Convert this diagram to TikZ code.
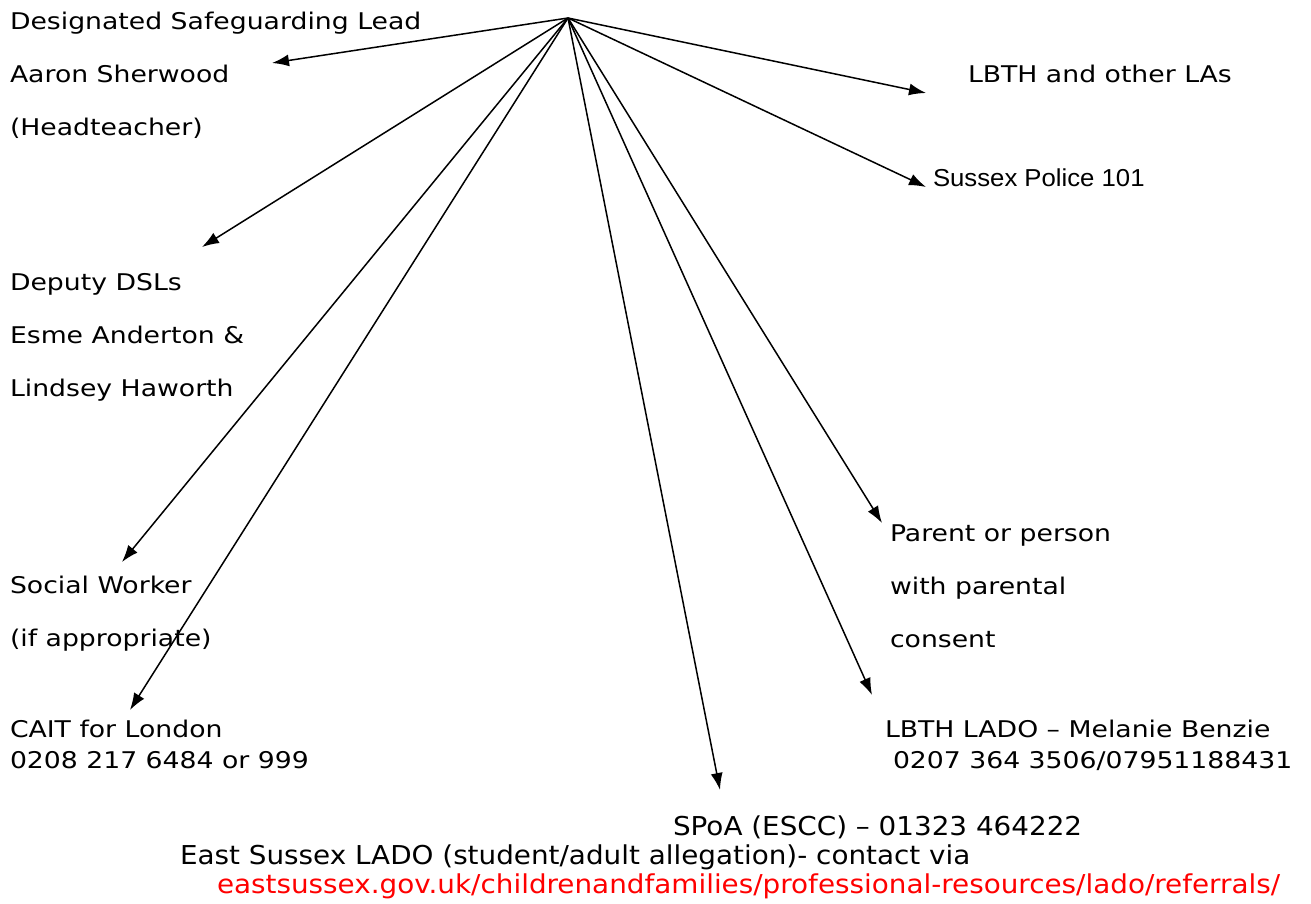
\documentclass[tikz,border=0pt]{standalone}
\usepackage{fontspec}
\setmainfont[FakeStretch=1.16]{DejaVu Sans}
\newfontfamily\arialfont[FakeStretch=1.05]{Liberation Sans}
\newfontfamily\lowfont[FakeStretch=1.07]{DejaVu Sans}
\usetikzlibrary{arrows.meta}

\begin{document}
\begin{tikzpicture}[%
        x=1pt, y=-1pt,
        every node/.style={inner sep=0pt, outer sep=0pt},
        wide/.style={anchor=base west, align=left, font=\fontsize{23}{53}\selectfont},
        tight/.style={anchor=base west, align=left, font=\fontsize{23}{31}\selectfont},
        low/.style={anchor=base west, align=left, font=\lowfont\fontsize{26}{29}\selectfont},
        link/.style={->, line width=1.5pt},
        >={Latex[length=17pt,width=12pt]} % Pfeilspitzen
        ]
    \useasboundingbox (0,0) rectangle (1311,904);

    % Personen und Stellen (Anker: Grundlinie der letzten Zeile)
    \node[wide]  (dsl)    at (10,136)  {Designated Safeguarding Lead\\Aaron Sherwood\\(Headteacher)};
    \node[wide]  (deputy) at (10,396)  {Deputy DSLs\\Esme Anderton \&\\Lindsey Haworth};
    \node[wide]  (social) at (10,646)  {Social Worker\\(if appropriate)};
    \node[tight] (cait)   at (10,768)  {CAIT for London\\0208 217 6484 or 999};
    \node[wide]  (las)    at (968,83)  {LBTH and other LAs};
    \node[anchor=base west, font=\arialfont\fontsize{24.5}{26}\selectfont]
                 (police) at (933,187) {Sussex Police 101};
    \node[wide]  (parent) at (890,647) {Parent or person\\with parental\\consent};
    \node[tight] (lado)   at (885,768) {LBTH LADO – Melanie Benzie\\\hspace*{8pt}0207 364 3506/07951188431};
    \node[low]   (spoa)   at (673,835) {SPoA (ESCC) – 01323 464222};
    \node[low]   (esx)    at (180,893) {East Sussex LADO (student/adult allegation)- contact via\\
                                        \hspace*{37pt}\textcolor{red}{eastsussex.gov.uk/childrenandfamilies/professional-resources/lado/referrals/}};

    % Pfeilenden
    \coordinate (hub)        at (568,18);
    \coordinate (dsl tip)    at (272,63);
    \coordinate (deputy tip) at (202,247);
    \coordinate (social tip) at (122,562);
    \coordinate (cait tip)   at (130,710);
    \coordinate (spoa tip)   at (720,790);
    \coordinate (lado tip)   at (872,695);
    \coordinate (parent tip) at (882,523);
    \coordinate (police tip) at (926,187);
    \coordinate (las tip)    at (926,93);

    % Pfeile
    \foreach \t in {dsl, deputy, social, cait, spoa, lado, parent, police, las}
        \draw[link] (hub) -- (\t\space tip);
\end{tikzpicture}
\end{document}
